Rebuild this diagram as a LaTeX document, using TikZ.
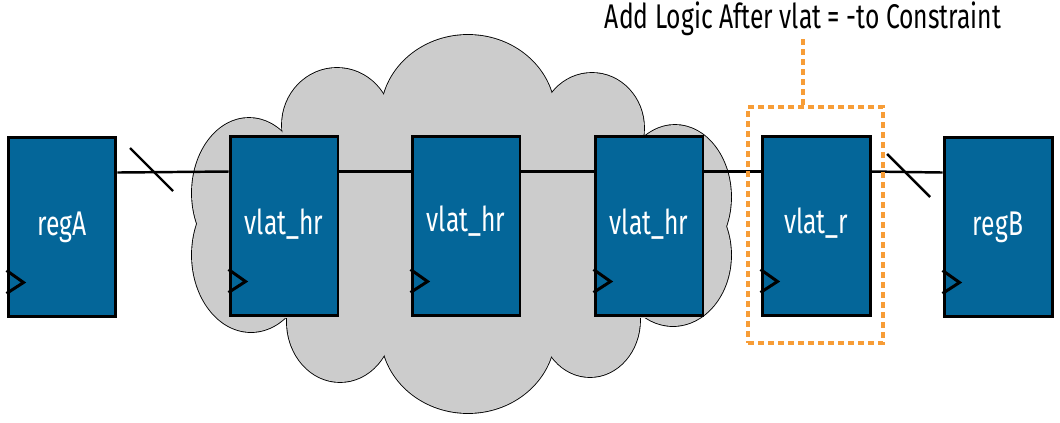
\documentclass[tikz,border=0pt]{standalone}
\usepackage{fontspec}
\newfontfamily\lblfont{Fira Sans}[FakeStretch=0.72]
\usetikzlibrary{calc}
\definecolor{regblue}{RGB}{4,102,153}
\definecolor{cloudgray}{RGB}{204,204,204}
\definecolor{hiorange}{RGB}{247,157,55}

\begin{document}
\begin{tikzpicture}[x=0.02cm, y=-0.02cm,
  reg/.style={draw, line width=1.7pt, fill=regblue, text=white, minimum width=2.16cm, minimum height=3.6cm, inner sep=0pt, font=\lblfont\fontsize{19.5}{22}\selectfont},
  wire/.style={line width=1.4pt},
  dots/.style={draw=hiorange, line width=2.8pt, dash pattern=on 0.12cm off 0.08cm},
  clk/.style={line width=1.7pt}
]
\useasboundingbox (0,0) rectangle (1060,422);
% cloud: outlined lobes, then filled again on top
\def\lobes{468/115/87/80, 337/125/55/57, 592/128/52/55, 249/193/57/75, 251/255/59/77,
  675/197/56/72, 673/255/58/71, 340/322/53/60, 590/320/50/57, 468/333/87/80}
\foreach \cx/\cy/\rx/\ry in \lobes \draw[line width=1pt] (\cx,\cy) ellipse[x radius=\rx, y radius=\ry];
\foreach \cx/\cy/\rx/\ry in \lobes \fill[cloudgray] (\cx,\cy) ellipse[x radius=\rx, y radius=\ry];
\fill[cloudgray] (255,135) rectangle (668,318);
% registers and latches
\node[reg] (regA) at (62,227) {regA};
\node[reg] (hr1) at (284,226) {\raisebox{5pt}{vlat\_hr}};
\node[reg] (hr2) at (466,226) {\raisebox{8pt}{vlat\_hr}};
\node[reg] (hr3) at (649,226) {\raisebox{5pt}{vlat\_hr}};
\node[reg] (vr) at (816,226) {\raisebox{6pt}{vlat\_r}};
\node[reg] (regB) at (998,227) {regB};
% clock inputs
\foreach \n in {regA,hr1,hr2,hr3,vr,regB}
  \draw[clk] ($(\n.south west)+(0,-48)$) -- ++(17,12) -- ++(-17,11);
% data path
\draw[wire] ([yshift=-0.74cm]regA.north east) -- ([yshift=-0.74cm]hr1.north west);
\draw[wire] ([yshift=-0.74cm]hr1.north east) -- ([yshift=-0.74cm]hr2.north west);
\draw[wire] ([yshift=-0.74cm]hr2.north east) -- ([yshift=-0.74cm]hr3.north west);
\draw[wire] ([yshift=-0.74cm]hr3.north east) -- ([yshift=-0.74cm]vr.north west);
\draw[wire] ([yshift=-0.74cm]vr.north east) -- ([yshift=-0.74cm]regB.north west);
% bus slashes
\draw[wire] (130,148) -- (173,191);
\draw[wire] (887,154) -- (930,197);
% highlighted latch and note
\node[dots, minimum width=2.7cm, minimum height=4.72cm, inner sep=0pt] (hl) at (815.5,225) {};
\node[anchor=south, inner sep=0pt, font=\lblfont\fontsize{19.5}{22}\selectfont] (note) at (803,36) {Add Logic After vlat = -to Constraint};
\draw[dots] (note.south |- hl.north) -- (note.south);
\end{tikzpicture}
\end{document}
